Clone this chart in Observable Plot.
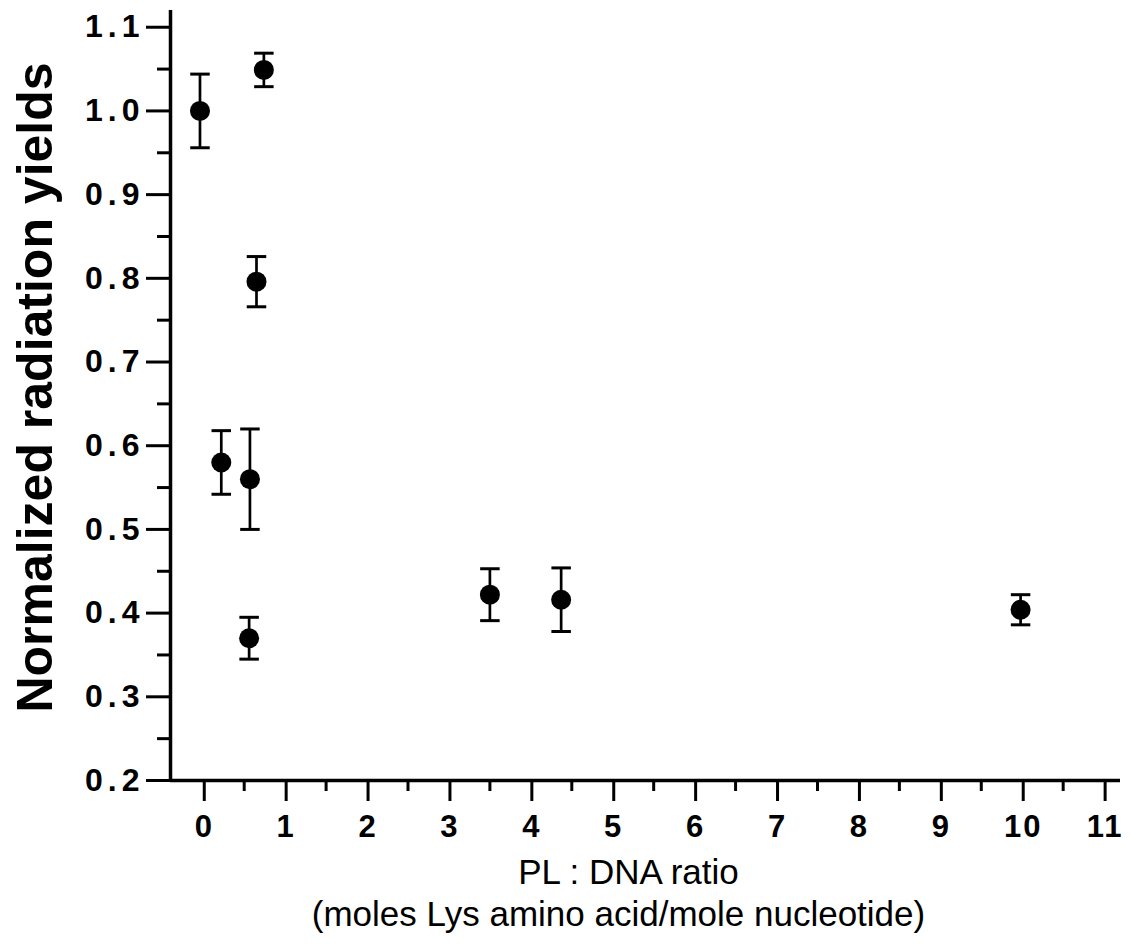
<!DOCTYPE html>
<html>
<head>
<meta charset="utf-8">
<script src="https://cdn.jsdelivr.net/npm/d3@7"></script>
<script src="https://cdn.jsdelivr.net/npm/@observablehq/plot@0.6"></script>
<style>
  html, body { margin: 0; padding: 0; background: #ffffff; }
  g[aria-label="y-axis tick label"] text { letter-spacing: 5px; }
  g[aria-label="x-axis tick label"] text { letter-spacing: 2px; }
</style>
</head>
<body>
<div id="chart"></div>
<script>
// PL:DNA ratio (x), normalized radiation yield (y), error (± half-length)
const ratio = [-0.04, 0.74, 0.65, 0.22, 0.57, 0.56, 3.50, 4.37, 9.98];
const yieldVal = [1.000, 1.049, 0.796, 0.580, 0.560, 0.370, 0.422, 0.416, 0.404];
const yieldErr = [0.044, 0.020, 0.030, 0.038, 0.060, 0.025, 0.031, 0.038, 0.018];

const xTicks = [0, 1, 2, 3, 4, 5, 6, 7, 8, 9, 10, 11];
const xMinorTicks = [0.5, 1.5, 2.5, 3.5, 4.5, 5.5, 6.5, 7.5, 8.5, 9.5, 10.5];
const yTicks = [0.2, 0.3, 0.4, 0.5, 0.6, 0.7, 0.8, 0.9, 1.0, 1.1];
const yMinorTicks = [0.25, 0.35, 0.45, 0.55, 0.65, 0.75, 0.85, 0.95, 1.05];

const yTitle = "Normalized radiation yields";
const xTitle1 = "PL : DNA ratio";
const xTitle2 = "(moles Lys amino acid/mole nucleotide)";

const data = ratio.map((x, i) => ({x, y: yieldVal[i], lo: yieldVal[i] - yieldErr[i], hi: yieldVal[i] + yieldErr[i]}));

const capSymbol = {
  draw(context, size) {
    const w = Math.sqrt(size) / 2;
    context.moveTo(-w, 0);
    context.lineTo(w, 0);
  }
};

const font = "'Liberation Sans', Arial, Helvetica, sans-serif";

const chart = Plot.plot({
  width: 1134,
  height: 945,
  marginLeft: 170,
  marginRight: 14,
  marginTop: 10,
  marginBottom: 165,
  x: {domain: [-0.4, 11.2]},
  y: {domain: [0.2, 1.12]},
  style: {fontFamily: font, background: "#ffffff", color: "#000000"},
  marks: [
    Plot.axisX({ticks: xMinorTicks, tickSize: 11, strokeWidth: 3, tickFormat: () => "", label: null}),
    Plot.axisX({ticks: xTicks, tickSize: 21, strokeWidth: 3, tickPadding: 13, fontSize: 31, fontWeight: "bold", dx: 1, label: null}),
    Plot.axisY({ticks: yMinorTicks, tickSize: 13, strokeWidth: 3, tickFormat: () => "", label: null}),
    Plot.axisY({ticks: yTicks, tickSize: 24, strokeWidth: 3, tickPadding: 2, tickFormat: d3.format(".1f"), fontSize: 32, fontWeight: "bold", label: null}),
    Plot.ruleY([0.2], {strokeWidth: 3.5}),
    Plot.ruleX([-0.4], {strokeWidth: 3.5}),
    Plot.ruleX(data, {x: "x", y1: "lo", y2: "hi", strokeWidth: 2.7}),
    Plot.dot(data, {x: "x", y: "lo", symbol: capSymbol, r: 11, stroke: "black", strokeWidth: 3}),
    Plot.dot(data, {x: "x", y: "hi", symbol: capSymbol, r: 11, stroke: "black", strokeWidth: 3}),
    Plot.dot(data, {x: "x", y: "y", r: 10, fill: "black", stroke: "none"}),
    Plot.text([yTitle], {frameAnchor: "left", textAnchor: "middle", rotate: -90, dx: -135, dy: -8, fontSize: 50, fontWeight: "bold", fill: "black"}),
    Plot.text([xTitle1], {frameAnchor: "bottom", lineAnchor: "bottom", dx: -17, dy: 103, fontSize: 35, fill: "black"}),
    Plot.text([xTitle2], {frameAnchor: "bottom", lineAnchor: "bottom", dx: -27, dy: 145, fontSize: 35, fill: "black"})
  ]
});

document.getElementById("chart").appendChild(chart);
</script>
</body>
</html>
